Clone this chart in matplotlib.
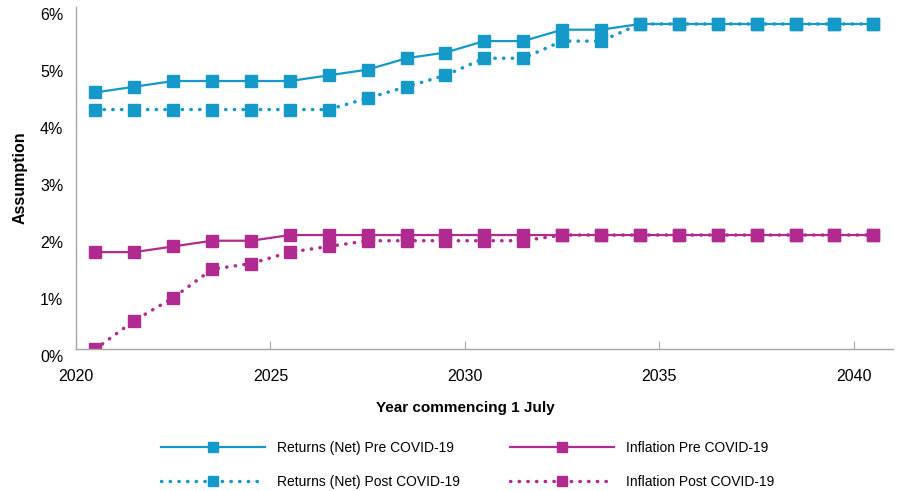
import numpy as np
import matplotlib
matplotlib.use("Agg")
import matplotlib.pyplot as plt
from matplotlib.transforms import ScaledTranslation

plt.rcParams["font.family"] = ["Liberation Sans", "DejaVu Sans"]

# year commencing 1 July
years = list(range(2020, 2041))

returnsPre = [4.5, 4.6, 4.7, 4.7, 4.7, 4.7, 4.8, 4.9, 5.1, 5.2, 5.4,
              5.4, 5.6, 5.6, 5.7, 5.7, 5.7, 5.7, 5.7, 5.7, 5.7]
returnsPost = [4.2, 4.2, 4.2, 4.2, 4.2, 4.2, 4.2, 4.4, 4.6, 4.8, 5.1,
               5.1, 5.4, 5.4, 5.7, 5.7, 5.7, 5.7, 5.7, 5.7, 5.7]
inflationPre = [1.7, 1.7, 1.8, 1.9, 1.9, 2.0, 2.0, 2.0, 2.0, 2.0, 2.0,
                2.0, 2.0, 2.0, 2.0, 2.0, 2.0, 2.0, 2.0, 2.0, 2.0]
inflationPost = [0.0, 0.5, 0.9, 1.4, 1.5, 1.7, 1.8, 1.9, 1.9, 1.9, 1.9,
                 1.9, 2.0, 2.0, 2.0, 2.0, 2.0, 2.0, 2.0, 2.0, 2.0]

yTicks = [0, 1, 2, 3, 4, 5, 6]
xTicks = [2020, 2025, 2030, 2035, 2040]

blue = "#1499C8"
magenta = "#B12A8F"
dots = (0, (0.1, 2.4))

fig = plt.figure(figsize=(9, 4.91), dpi=100)
ax = fig.add_axes([0.0844, 0.289, 0.9076, 0.697])

x = np.array(years) + 0.5
ax.plot(x, returnsPre, "-", color=blue, lw=1.6, marker="s", ms=9,
        label="Returns (Net) Pre COVID-19")
ax.plot(x, returnsPost, color=blue, lw=2.5, ls=dots, dash_capstyle="round",
        marker="s", ms=9, label="Returns (Net) Post COVID-19")
ax.plot(x, inflationPre, "-", color=magenta, lw=1.6, marker="s", ms=9,
        label="Inflation Pre COVID-19")
ax.plot(x, inflationPost, color=magenta, lw=2.5, ls=dots, dash_capstyle="round",
        marker="s", ms=9, label="Inflation Post COVID-19")

ax.set_xlim(2020, 2041)
ax.set_ylim(0, 6)
ax.set_xticks(xTicks)
ax.set_yticks(yTicks)
ax.set_yticklabels(["{}%".format(v) for v in yTicks])

for side in ("top", "right"):
    ax.spines[side].set_visible(False)
for side in ("left", "bottom"):
    ax.spines[side].set_color("#A6A6A6")
    ax.spines[side].set_linewidth(1.0)

ax.tick_params(axis="x", direction="in", length=6, color="#A6A6A6",
               labelsize=11.5, pad=14)
ax.tick_params(axis="y", length=0, labelsize=11.5, pad=9)

# labels sit a little below their values, as in the original
offset = ScaledTranslation(0, -7 / 100, fig.dpi_scale_trans)
for lab in ax.get_yticklabels():
    lab.set_transform(lab.get_transform() + offset)

ax.set_xlabel("Year commencing 1 July", fontsize=11, fontweight="bold")
ax.xaxis.set_label_coords(0.477, -0.153)
ax.set_ylabel("Assumption", fontsize=11.5, fontweight="bold")
ax.yaxis.set_label_coords(-0.059, 0.5)

leg = fig.legend(loc="upper left", bbox_to_anchor=(161 / 900, 1 - 441 / 491), ncol=2,
                 frameon=False, borderpad=0, borderaxespad=0, fontsize=10,
                 handlelength=7.5, handletextpad=0.85, columnspacing=3.6,
                 labelspacing=1.45, markerscale=0.75)

fig.savefig("out.png", dpi=100)
